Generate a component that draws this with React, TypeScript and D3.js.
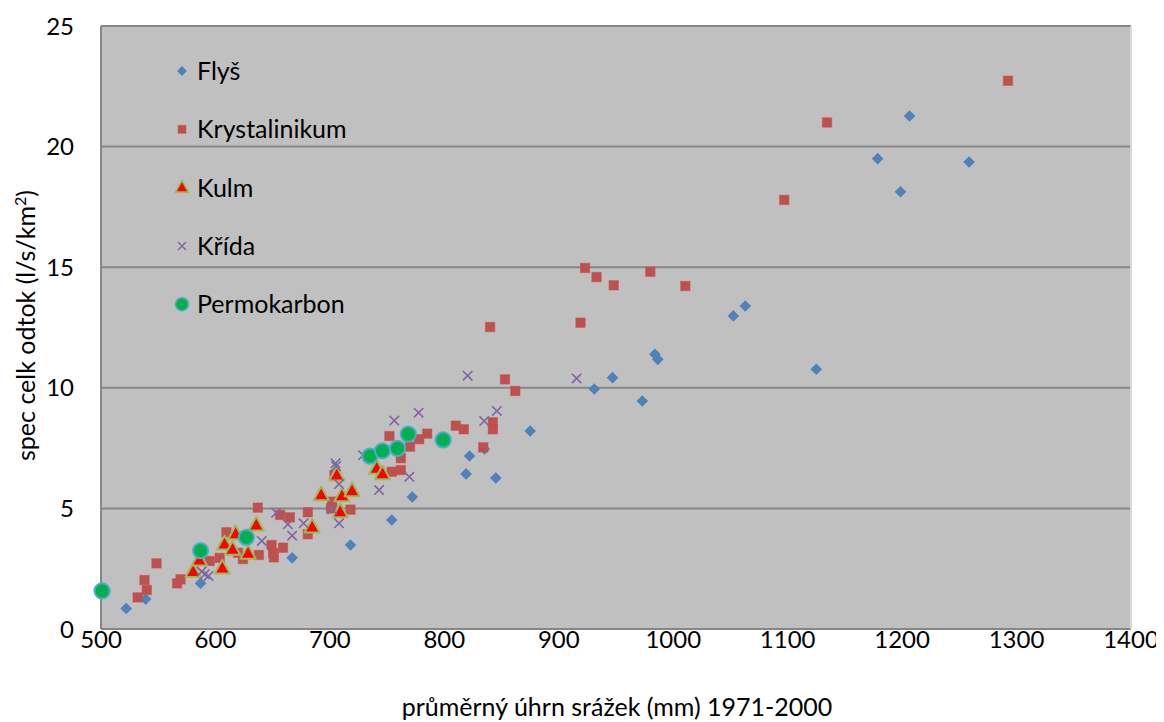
import { useEffect, useRef } from 'react';
import * as d3 from 'd3';

type Pt = [number, number];

// values (precipitation mm, specific runoff l/s/km2)
const flys: Pt[] = [
  [522, 0.85], [539, 1.24], [587, 1.9], [667, 2.95], [718, 3.48], [754, 4.52], [772, 5.47],
  [819, 6.43], [822, 7.17], [835, 7.46], [845, 6.26], [875, 8.21], [931, 9.95], [947, 10.42],
  [973, 9.45], [984, 11.39], [986.5, 11.18], [1052.5, 12.98], [1063, 13.39], [1125, 10.77],
  [1178.6, 19.5], [1198.6, 18.13], [1206.5, 21.27], [1258.5, 19.36],
];

const krystalinikum: Pt[] = [
  [532, 1.31], [538, 2.03], [540, 1.62], [548.5, 2.72], [566.5, 1.89], [569.5, 2.06], [595, 2.82],
  [603.7, 2.95], [609.6, 4.01], [619.7, 3.16], [624, 2.9], [638, 3.07], [637, 5.03], [649, 3.48],
  [650.5, 3.14], [651, 2.97], [656.5, 4.73], [659, 3.37], [665, 4.63], [680.7, 4.84], [680.7, 3.93],
  [701, 5.0], [702, 5.28], [704, 6.38], [718, 4.95], [752, 8.0], [754, 6.52], [762, 6.59],
  [762, 7.08], [770, 7.56], [778, 7.87], [785, 8.1], [810, 8.43], [817, 8.28], [834, 7.53],
  [840, 12.52], [842.4, 8.57], [842.4, 8.28], [853, 10.35], [862, 9.87], [919, 12.7], [923, 14.97],
  [933, 14.59], [948, 14.25], [980, 14.81], [1010.6, 14.22], [1097, 17.79], [1134.4, 21.0],
  [1292.5, 22.73],
];

const kulm: Pt[] = [
  [580.5, 2.38], [586, 2.86], [606, 2.52], [608, 3.52], [615, 3.3], [617.7, 3.94], [628.5, 3.14],
  [635.7, 4.31], [684.5, 4.22], [692.4, 5.56], [706, 6.38], [709, 4.86], [710.6, 5.52],
  [719.4, 5.73], [741, 6.66], [746, 6.43],
];

const krida: Pt[] = [
  [588, 2.38], [590.7, 2.27], [594, 2.2], [640.5, 3.65], [653, 4.82], [663.3, 4.34], [667, 3.87],
  [677, 4.38], [702, 4.96], [705, 6.87], [705.4, 6.75], [708, 6.01], [708, 4.38], [729, 7.2],
  [743, 5.76], [756.3, 8.64], [769.4, 6.31], [777.5, 8.97], [820.4, 10.5], [834.8, 8.62],
  [845.9, 9.04], [915.6, 10.39],
];

const permokarbon: Pt[] = [
  [501, 1.58], [587, 3.25], [627, 3.8], [735, 7.17], [746, 7.39], [759, 7.49], [768.5, 8.08],
  [799, 7.84],
];

const xTicks = [500, 600, 700, 800, 900, 1000, 1100, 1200, 1300, 1400];
const yTicks = [0, 5, 10, 15, 20, 25];
const seriesNames = ['Flyš', 'Krystalinikum', 'Kulm', 'Křída', 'Permokarbon'];

const W = 1156;
const H = 714;
const margin = { left: 93, top: 18 };
const innerW = 1030;
const innerH = 603;
const FONT = 'Lato, "Open Sans", sans-serif';

const drawMarker = (g: d3.Selection<SVGGElement, unknown, null, undefined>, kind: number) => {
  if (kind === 0) {
    g.append('path').attr('d', 'M0,-5.8L5.8,0L0,5.8L-5.8,0Z').attr('fill', '#4F81BD');
  } else if (kind === 1) {
    g.append('rect').attr('x', -4.7).attr('y', -4.7).attr('width', 9.4).attr('height', 9.4)
      .attr('fill', '#C0504D').attr('stroke', '#C0504D').attr('stroke-opacity', 0.5);
  } else if (kind === 2) {
    g.append('path').attr('d', 'M0,-8.4L7.6,5.4L-7.6,5.4Z').attr('fill', '#FF0000')
      .attr('stroke', '#9BBB59').attr('stroke-width', 2).attr('stroke-linejoin', 'round');
  } else if (kind === 3) {
    g.append('path').attr('d', 'M-4.7,-4.7L4.7,4.7M4.7,-4.7L-4.7,4.7').attr('stroke', '#8064A2')
      .attr('stroke-width', 1.6).attr('fill', 'none');
  } else {
    g.append('circle').attr('r', 7.6).attr('fill', '#00B050')
      .attr('stroke', '#4BACC6').attr('stroke-width', 2);
  }
};

const App = () => {
  const svgRef = useRef<SVGSVGElement>(null);

  useEffect(() => {
    const svg = d3.select(svgRef.current);
    svg.selectAll('*').remove();

    const x = d3.scaleLinear().domain([500, 1400]).range([0, innerW]);
    const y = d3.scaleLinear().domain([0, 25]).range([innerH, 0]);

    const g = svg.append('g').attr('transform', `translate(${margin.left},${margin.top})`);

    g.append('rect').attr('width', innerW).attr('height', innerH).attr('fill', '#C0C0C0');

    g.append('g')
      .selectAll('line')
      .data(yTicks)
      .join('line')
      .attr('x1', 0)
      .attr('x2', innerW)
      .attr('y1', d => y(d))
      .attr('y2', d => y(d))
      .attr('stroke', '#868686')
      .attr('stroke-width', 2);

    g.append('line').attr('x1', 0).attr('x2', 0).attr('y1', 0).attr('y2', innerH)
      .attr('stroke', '#868686').attr('stroke-width', 2);
    g.append('line').attr('x1', innerW).attr('x2', innerW).attr('y1', 0).attr('y2', innerH)
      .attr('stroke', '#D9D9D9').attr('stroke-width', 2);

    // tick labels
    g.append('g')
      .selectAll('text')
      .data(xTicks)
      .join('text')
      .attr('x', d => x(d))
      .attr('y', innerH + 19)
      .attr('text-anchor', 'middle')
      .style('font-family', FONT)
      .style('font-size', '24px')
      .attr('fill', '#000')
      .text(d => d);

    g.append('g')
      .selectAll('text')
      .data(yTicks)
      .join('text')
      .attr('x', -27)
      .attr('y', d => y(d) + 8.5)
      .attr('text-anchor', 'end')
      .style('font-family', FONT)
      .style('font-size', '24px')
      .attr('fill', '#000')
      .text(d => d);

    // axis titles
    g.append('text')
      .attr('x', innerW / 2 + 1)
      .attr('y', innerH + 87)
      .attr('text-anchor', 'middle')
      .style('font-family', FONT)
      .style('font-size', '25px')
      .text('průměrný úhrn srážek (mm) 1971-2000');

    const yt = g.append('text')
      .attr('transform', `translate(-66,${innerH / 2 - 2}) rotate(-90)`)
      .attr('text-anchor', 'middle')
      .style('font-family', FONT)
      .style('font-size', '25px');
    yt.append('tspan').text('spec celk odtok (l/s/km');
    yt.append('tspan').attr('baseline-shift', 'super').style('font-size', '16px').text('2');
    yt.append('tspan').text(')');

    const all = [flys, krystalinikum, kulm, krida, permokarbon];
    all.forEach((pts, k) => {
      g.append('g')
        .selectAll('g')
        .data(pts)
        .join('g')
        .attr('transform', d => `translate(${x(d[0])},${y(d[1])})`)
        .each(function () {
          drawMarker(d3.select(this as SVGGElement), k);
        });
    });

    // legend
    const legend = g.append('g').attr('transform', 'translate(81,45)');
    seriesNames.forEach((name, i) => {
      const item = legend.append('g').attr('transform', `translate(0,${i * 58.3})`);
      const m = item.append('g').attr('transform', 'scale(0.85)');
      drawMarker(m, i);
      item.append('text')
        .attr('x', 15)
        .attr('y', 9)
        .style('font-family', FONT)
        .style('font-size', '25px')
        .text(name);
    });
  }, []);

  return <svg ref={svgRef} width={W} height={H} style={{ display: 'block', background: '#fff' }} />;
};

export default App;
